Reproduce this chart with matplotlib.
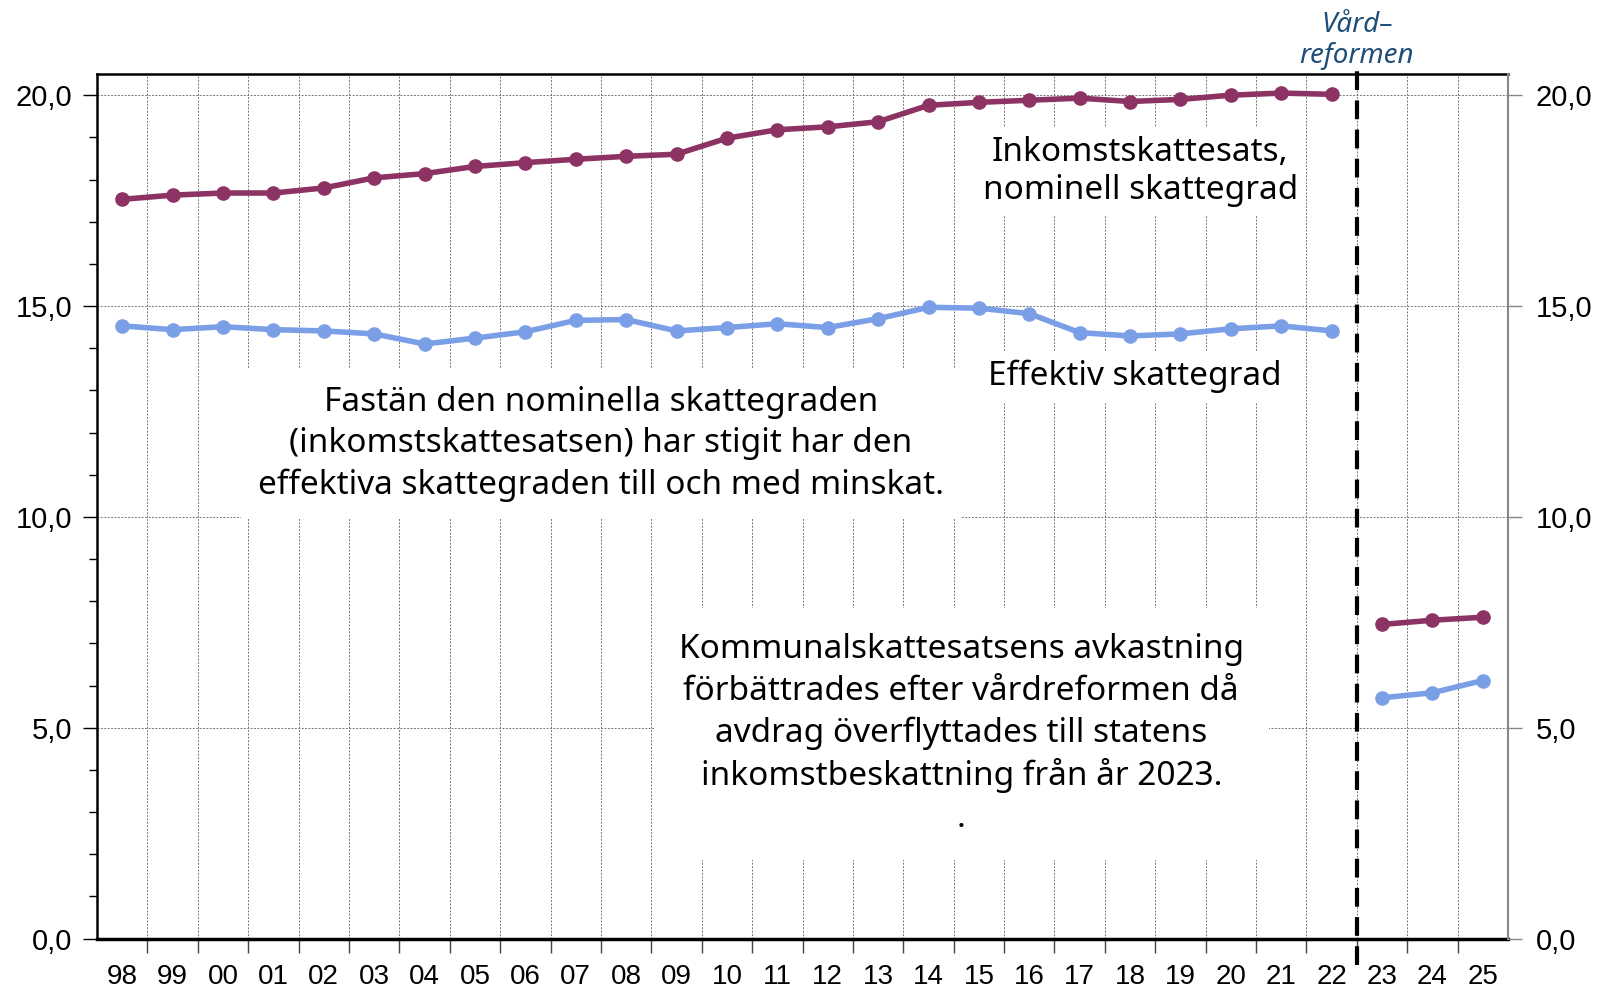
import matplotlib
matplotlib.use("Agg")
import matplotlib.pyplot as plt
from matplotlib.ticker import MultipleLocator, FuncFormatter
from matplotlib import font_manager
import numpy as np

years = ["98", "99", "00", "01", "02", "03", "04", "05", "06", "07", "08", "09",
         "10", "11", "12", "13", "14", "15", "16", "17", "18", "19", "20", "21",
         "22", "23", "24", "25"]

nominell = [17.53, 17.63, 17.68, 17.68, 17.80, 18.04, 18.14, 18.31, 18.40, 18.48,
            18.55, 18.60, 18.98, 19.18, 19.25, 19.37, 19.76, 19.83, 19.88, 19.93,
            19.85, 19.90, 20.00, 20.05, 20.02, 7.45, 7.55, 7.62]
effektiv = [14.53, 14.44, 14.51, 14.44, 14.41, 14.34, 14.10, 14.24, 14.39, 14.66,
            14.68, 14.41, 14.49, 14.58, 14.49, 14.70, 14.97, 14.95, 14.82, 14.37,
            14.29, 14.34, 14.46, 14.53, 14.41, 5.71, 5.83, 6.12]
split = 25  # reform from 2023

PURPLE = "#8c3364"
BLUE = "#7b9fe7"

names = {f.name for f in font_manager.fontManager.ttflist}
narrow = "Liberation Sans Narrow" if "Liberation Sans Narrow" in names else "Liberation Sans"
textfont = "Noto Sans"

fig = plt.figure(figsize=(15.98, 9.88), dpi=100)
ax = fig.add_axes([0.0607, 0.05, 0.883, 0.875])

x = np.arange(len(years))
for vals, c in [(nominell, PURPLE), (effektiv, BLUE)]:
    ax.plot(x[:split], vals[:split], color=c, lw=4, marker="o", ms=9.5, zorder=5)
    ax.plot(x[split:], vals[split:], color=c, lw=4, marker="o", ms=9.5, zorder=5)

ax.set_xlim(-0.5, len(years) - 0.5)
ax.set_ylim(0, 20.5)

# y axis
ax.yaxis.set_major_locator(MultipleLocator(5))
ax.yaxis.set_minor_locator(MultipleLocator(1))
fmt = FuncFormatter(lambda v, p: f"{v:.1f}".replace(".", ","))
ax.yaxis.set_major_formatter(fmt)
ax.tick_params(axis="y", which="major", length=10, width=1, labelsize=21, pad=8)
ax.tick_params(axis="y", which="minor", length=6, width=1)
for lab in ax.get_yticklabels():
    lab.set_fontfamily("Liberation Sans")

ax2 = ax.twinx()
ax2.set_ylim(ax.get_ylim())
ax2.yaxis.set_major_locator(MultipleLocator(5))
ax2.yaxis.set_major_formatter(fmt)
ax2.tick_params(axis="y", length=10, width=1, color="#888888", labelsize=21, pad=10)
for lab in ax2.get_yticklabels():
    lab.set_fontfamily("Liberation Sans")

# x axis: ticks and grid on category boundaries, labels centred
ax.set_xticks(x)
ax.set_xticklabels(years, fontsize=20, fontfamily=narrow)
ax.set_xticks(x[:-1] + 0.5, minor=True)
ax.tick_params(axis="x", which="major", length=0, pad=18)
ax.tick_params(axis="x", which="minor", length=10, width=1, color="#444444")
ax.grid(True, axis="x", which="minor", ls=(0, (2, 1.5)), lw=0.7, color="#777777")
ax.grid(True, axis="y", which="major", ls=(0, (2, 1.5)), lw=0.7, color="#777777")
ax.set_axisbelow(True)

for side in ["left", "top"]:
    ax.spines[side].set_linewidth(1.8)
    ax.spines[side].set_color("black")
ax.spines["bottom"].set_linewidth(2.5)
ax.spines["right"].set_visible(False)
ax2.spines["right"].set_color("#888888")
ax2.spines["right"].set_linewidth(1.5)
for side in ["left", "top", "bottom"]:
    ax2.spines[side].set_visible(False)

# reform line
ax.axvline(split - 0.5, ymin=-0.03, ymax=1.01, color="black", lw=3,
           ls=(0, (4.5, 2.5)), clip_on=False, zorder=6)
ax.text(split - 0.5, 21.3, "Vård–\nreformen", ha="center", va="center",
        fontsize=20, style="italic", color="#1f4e79", fontfamily=textfont,
        linespacing=1.15)

box = dict(facecolor="white", edgecolor="none", pad=6)
ax.text(20.2, 18.2, "Inkomstskattesats,\nnominell skattegrad", ha="center",
        va="center", fontsize=24, fontfamily=textfont, linespacing=1.2,
        bbox=box, zorder=4)
ax.text(20.1, 13.33, "Effektiv skattegrad", ha="center", va="center",
        fontsize=24, fontfamily=textfont, bbox=box, zorder=4)
ax.text(9.5, 11.73, "Fastän den nominella skattegraden\n(inkomstskattesatsen) har stigit har den\n"
        "effektiva skattegraden till och med minskat.", ha="center", va="center",
        fontsize=24, fontfamily=textfont, linespacing=1.33,
        bbox=dict(facecolor="white", edgecolor="none", pad=12), zorder=4)
ax.text(16.65, 4.85, "Kommunalskattesatsens avkastning\nförbättrades efter vårdreformen då\n"
        "avdrag överflyttades till statens\ninkomstbeskattning från år 2023.\n.",
        ha="center", va="center", fontsize=24, fontfamily=textfont,
        linespacing=1.33, bbox=dict(facecolor="white", edgecolor="none", pad=18), zorder=4)

fig.savefig("out.png", dpi=100)
